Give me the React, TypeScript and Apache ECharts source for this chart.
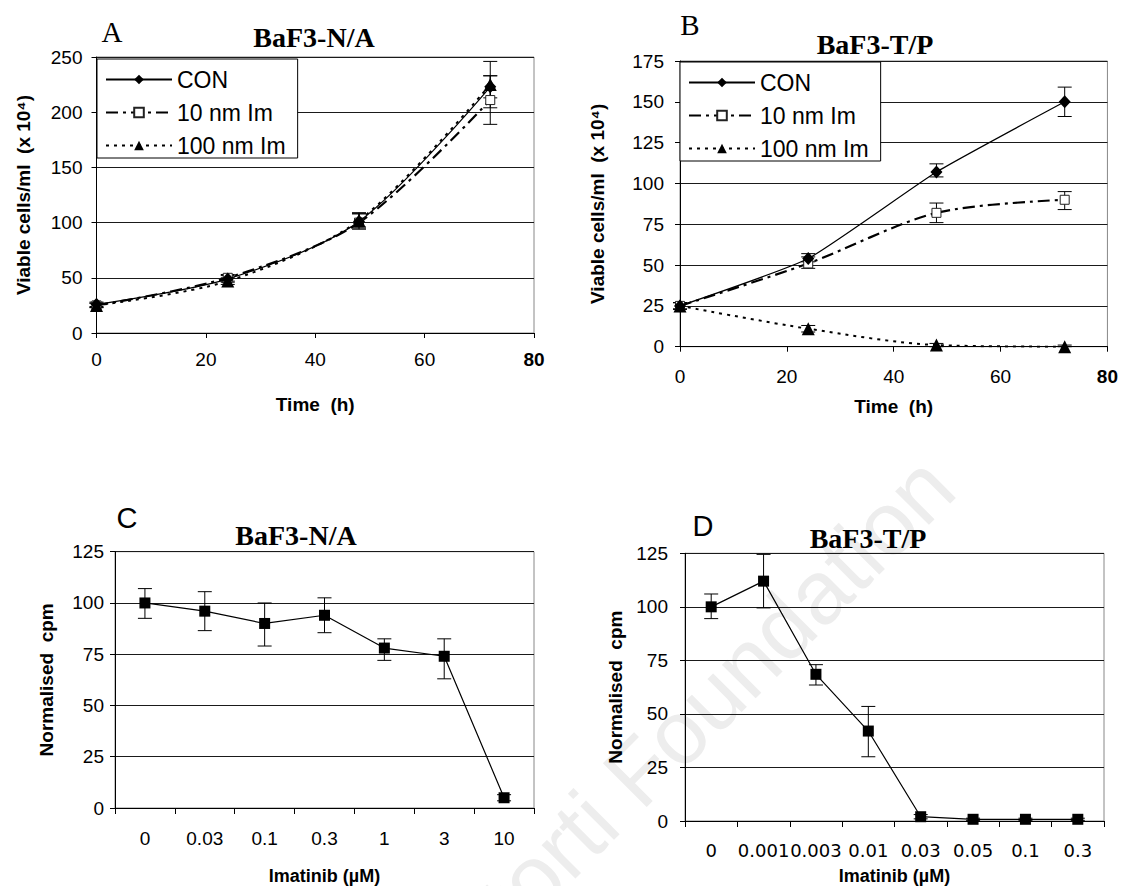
import React, { useEffect, useRef } from "react";
import * as echarts from "echarts";

// ---------- Data ----------
const timesH = [0, 24, 48, 72];
const seriesNames = ["CON", "10 nm Im", "100 nm Im"];

// Panel A: BaF3-N/A viable cells
const aCon = [26, 49, 101, 223];
const a10 = [25, 50, 100, 211];
const a100 = [25, 47, 102, 225];
const aConLow = [24, 46, 95, 213];
const aConHigh = [28, 52, 108, 233];
const a10Low = [23, 47, 94, 189];
const a10High = [27, 53, 109, 233];
const a100Low = [23, 44, 96, 204];
const a100High = [27, 50, 108, 246];

// Panel B: BaF3-T/P viable cells
const bCon = [25, 54, 107, 150];
const b10 = [25, 51, 82, 90];
const b100 = [25, 11, 1, 0];
const bConLow = [23, 52, 104, 141];
const bConHigh = [27, 57, 112, 159];
const b10Low = [23, 48, 76, 84];
const b10High = [27, 55, 88, 95];
const b100Low = [23, 9, 0, 0];
const b100High = [27, 13, 2, 1];

// Panel C: BaF3-N/A normalised cpm
const cCats = ["0", "0.03", "0.1", "0.3", "1", "3", "10"];
const cVals = [100, 96, 90, 94, 78, 74, 5];
const cLow = [92.5, 86.5, 79, 85.5, 72, 63, 3.5];
const cHigh = [107, 105.5, 100, 102.5, 82.5, 82.5, 6.5];

// Panel D: BaF3-T/P normalised cpm
const dCats = ["0", "0.001", "0.003", "0.01", "0.03", "0.05", "0.1", "0.3"];
const dVals = [100, 112, 68.5, 42, 2, 0.8, 0.8, 0.8];
const dLow = [94.5, 99.5, 63.5, 30, 1, 0.3, 0.3, 0.3];
const dHigh = [106, 124.5, 73, 53.5, 3, 1.3, 1.3, 1.3];

// ---------- Styles ----------
const SANS = '"Liberation Sans", Arial, Helvetica, sans-serif';
const SERIF = '"Liberation Serif", "Times New Roman", serif';

function renderErr(params: any, api: any) {
  const x = api.value(0);
  const lo = api.coord([x, api.value(1)]);
  const hi = api.coord([x, api.value(2)]);
  const w = 7;
  const style = { stroke: "#000", lineWidth: 1 };
  return {
    type: "group",
    children: [
      { type: "line", shape: { x1: lo[0], y1: lo[1], x2: hi[0], y2: hi[1] }, style },
      { type: "line", shape: { x1: lo[0] - w, y1: lo[1], x2: lo[0] + w, y2: lo[1] }, style },
      { type: "line", shape: { x1: hi[0] - w, y1: hi[1], x2: hi[0] + w, y2: hi[1] }, style },
    ],
  };
}

function errSeries(xs: any[], lo: number[], hi: number[], axis: number) {
  return {
    type: "custom",
    xAxisIndex: axis,
    yAxisIndex: axis,
    renderItem: renderErr,
    encode: { x: 0, y: [1, 2] },
    data: xs.map((x, i) => [x, lo[i], hi[i]]),
    silent: true,
    z: 2,
  };
}

function zip(xs: number[], ys: number[]) {
  return xs.map((x, i) => [x, ys[i]]);
}

function timeSeries(axis: number, con: number[], t10: number[], t100: number[], conSmooth: number) {
  return [
    {
      name: seriesNames[0],
      type: "line",
      xAxisIndex: axis,
      yAxisIndex: axis,
      data: zip(timesH, con),
      smooth: conSmooth,
      symbol: "diamond",
      symbolSize: [12, 13],
      lineStyle: { color: "#000", width: 1.2, type: "solid" },
      itemStyle: { color: "#000" },
      z: 4,
    },
    {
      name: seriesNames[1],
      type: "line",
      xAxisIndex: axis,
      yAxisIndex: axis,
      data: zip(timesH, t10),
      smooth: 0.3,
      symbol: "rect",
      symbolSize: 9,
      lineStyle: { color: "#000", width: 2.2, type: [12, 5, 3, 5] },
      itemStyle: { color: "#fff", borderColor: "#222", borderWidth: 1 },
      z: 3,
    },
    {
      name: seriesNames[2],
      type: "line",
      xAxisIndex: axis,
      yAxisIndex: axis,
      data: zip(timesH, t100),
      smooth: 0.3,
      symbol: "triangle",
      symbolSize: 13,
      lineStyle: { color: "#000", width: 2, type: [3, 5] },
      itemStyle: { color: "#000" },
      z: 3,
    },
  ];
}

const axisLineStyle = { show: true, lineStyle: { color: "#000", width: 1 } };
const tickLabel = (margin: number) => ({
  fontSize: 19,
  fontFamily: SANS,
  color: "#000",
  margin,
});
const nameStyle = (size: number) => ({
  fontSize: size,
  fontWeight: "bold",
  fontFamily: SANS,
  color: "#000",
});

function timeXAxis(grid: number, labelMargin: number, nameGap: number) {
  return {
    type: "value",
    gridIndex: grid,
    min: 0,
    max: 80,
    interval: 20,
    name: "Time  (h)",
    nameLocation: "middle",
    nameGap,
    nameTextStyle: nameStyle(19),
    axisLine: axisLineStyle,
    axisTick: { show: true, length: 5, lineStyle: { color: "#000" } },
    splitLine: { show: false },
    axisLabel: {
      ...tickLabel(labelMargin),
      formatter: (v: number) => (v === 80 ? "{b|80}" : String(v)),
      rich: { b: { fontWeight: "bold", fontSize: 19, fontFamily: SANS, color: "#000" } },
    },
  };
}

function valueYAxis(grid: number, max: number, interval: number, name: string, nameGap: number, labelMargin: number, nameSize: number) {
  return {
    type: "value",
    gridIndex: grid,
    min: 0,
    max,
    interval,
    name,
    nameLocation: "middle",
    nameGap,
    nameTextStyle: nameStyle(nameSize),
    axisLine: axisLineStyle,
    axisTick: { show: true, length: 5, lineStyle: { color: "#000" } },
    splitLine: { show: true, lineStyle: { color: "#1a1a1a", width: 1 } },
    axisLabel: tickLabel(labelMargin),
  };
}

function catXAxis(grid: number, cats: string[], labelMargin: number, nameGap: number, labelFont: string, labelSize: number) {
  return {
    type: "category",
    gridIndex: grid,
    data: cats,
    boundaryGap: true,
    name: "Imatinib (µM)",
    nameLocation: "middle",
    nameGap,
    nameTextStyle: nameStyle(18),
    axisLine: axisLineStyle,
    axisTick: { show: true, length: 6, interval: 0, alignWithLabel: false, lineStyle: { color: "#000" } },
    splitLine: { show: false },
    axisLabel: { ...tickLabel(labelMargin), interval: 0, fontFamily: labelFont, fontSize: labelSize },
  };
}

function legendAt(left: number, top: number) {
  return {
    data: seriesNames,
    orient: "vertical",
    left,
    top,
    itemWidth: 66,
    itemHeight: 12,
    itemGap: 10,
    padding: [9, 12, 1, 8],
    backgroundColor: "#fff",
    borderColor: "#000",
    borderWidth: 1,
    borderRadius: 0,
    selectedMode: false,
    textStyle: { fontSize: 23, fontFamily: SANS, color: "#000", lineHeight: 23 },
  };
}

function textEl(text: string, x: number, y: number, font: string, extra: any = {}) {
  return {
    type: "text",
    x,
    y,
    z: 10,
    ...extra,
    style: {
      text,
      font,
      fill: "#000",
      textAlign: "center",
      textVerticalAlign: "middle",
      align: "center",
      verticalAlign: "middle",
      ...(extra.style || {}),
    },
  };
}

export default function App() {
  const ref = useRef<HTMLDivElement>(null);

  useEffect(() => {
    document.body.style.margin = "0";
    if (!ref.current) return;
    const chart = echarts.init(ref.current, null, { renderer: "svg" });
    const gridBase = { show: true, borderColor: "#888", borderWidth: 1, backgroundColor: "transparent" };

    const option: any = {
      animation: false,
      backgroundColor: "#fff",
      grid: [
        { ...gridBase, left: 96.5, top: 57, width: 437.5, height: 276 },
        { ...gridBase, left: 680, top: 61, width: 428, height: 285.7 },
        { ...gridBase, left: 115, top: 551.7, width: 419, height: 261 },
        { ...gridBase, left: 685, top: 553.3, width: 419, height: 269.4 },
      ],
      xAxis: [
        timeXAxis(0, 17, 62),
        timeXAxis(1, 20, 50),
        catXAxis(2, cCats, 21, 59, SANS, 19),
        catXAxis(3, dCats, 20, 46, '"DejaVu Sans", sans-serif', 18),
      ],
      yAxis: [
        valueYAxis(0, 250, 50, "Viable cells/ml  (x 10⁴)", 64, 14, 19),
        valueYAxis(1, 175, 25, "Viable cells/ml  (x 10⁴)", 73, 16, 19),
        valueYAxis(2, 125, 25, "Normalised  cpm", 59, 11, 19),
        valueYAxis(3, 125, 25, "Normalised  cpm", 60, 17, 19),
      ],
      legend: [legendAt(97, 59), legendAt(680, 62)],
      graphic: [
        {
          type: "text",
          x: 938,
          y: 472,
          rotation: Math.PI / 4,
          z: -1,
          silent: true,
          style: {
            text: "Ferrata Storti Foundation",
            font: `90px ${SANS}`,
            fill: "#ededed",
            textAlign: "right",
            textVerticalAlign: "middle",
            align: "right",
            verticalAlign: "middle",
          },
        },
        textEl("A", 112, 32, `29px ${SERIF}`),
        textEl("BaF3-N/A", 314, 37, `bold 28px ${SERIF}`),
        textEl("B", 690, 25, `29px ${SERIF}`),
        textEl("BaF3-T/P", 875, 44, `bold 28px ${SERIF}`),
        textEl("C", 127, 518, `29px ${SANS}`),
        textEl("BaF3-N/A", 296, 535, `bold 28px ${SERIF}`),
        textEl("D", 703, 526, `29px ${SANS}`),
        textEl("BaF3-T/P", 868, 538, `bold 28px ${SERIF}`),
      ],
      series: [
        errSeries(timesH, aConLow, aConHigh, 0),
        errSeries(timesH, a10Low, a10High, 0),
        errSeries(timesH, a100Low, a100High, 0),
        ...timeSeries(0, aCon, a10, a100, 0.3),
        errSeries(timesH, bConLow, bConHigh, 1),
        errSeries(timesH, b10Low, b10High, 1),
        errSeries(timesH, b100Low, b100High, 1),
        ...timeSeries(1, bCon, b10, b100, 0.15),
        errSeries(cCats.map((_, i) => i), cLow, cHigh, 2),
        {
          name: "C",
          type: "line",
          xAxisIndex: 2,
          yAxisIndex: 2,
          data: cVals,
          symbol: "rect",
          symbolSize: 11,
          lineStyle: { color: "#000", width: 1.2 },
          itemStyle: { color: "#000" },
          z: 4,
        },
        errSeries(dCats.map((_, i) => i), dLow, dHigh, 3),
        {
          name: "D",
          type: "line",
          xAxisIndex: 3,
          yAxisIndex: 3,
          data: dVals,
          symbol: "rect",
          symbolSize: 11,
          lineStyle: { color: "#000", width: 1.2 },
          itemStyle: { color: "#000" },
          z: 4,
        },
      ],
    };
    chart.setOption(option);
    return () => chart.dispose();
  }, []);

  return <div ref={ref} style={{ width: 1121, height: 886 }} />;
}
